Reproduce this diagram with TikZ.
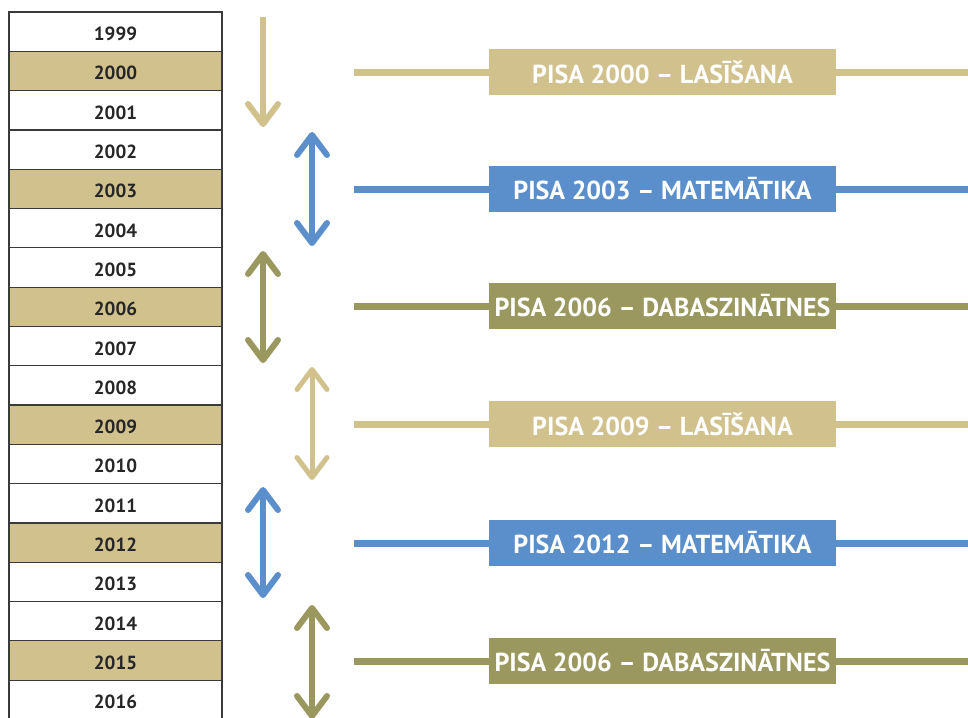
\documentclass[tikz,border=0pt]{standalone}
\usepackage{fontspec}
\setmainfont{PT Sans}
\newfontfamily\pisafont{PT Sans}
\usetikzlibrary{arrows.meta}
\definecolor{pisatan}{HTML}{D1C18D}
\definecolor{pisablue}{HTML}{5B8FCB}
\definecolor{pisaolive}{HTML}{9A985F}
\definecolor{gridgray}{HTML}{3A3A3A}
\begin{document}
\begin{tikzpicture}[
		x=1pt,
		y=-1pt,
		font=\bfseries
	]
	\tikzset{
		yearnode/.style = {rectangle, draw=gridgray, line width=1.2pt, fill=white, minimum width=213pt, minimum height=39.3pt, inner sep=0pt, text=black!85, font=\fontsize{19}{19}\selectfont\bfseries, text height=18pt, text depth=0pt},
		yearpisa/.style = {yearnode, fill=pisatan},
		pisanode/.style = {rectangle, minimum width=347pt, minimum height=46pt, inner sep=0pt, text=white, font=\pisafont\fontsize{26}{26}\selectfont\bfseries},
		pisaline/.style = {line width=7pt},
		barb/.tip = {Straight Barb[length=20pt, width=30pt, line cap=round, line join=round]},
		arrowd/.style = {line width=6pt, -barb},
		arrowb/.style = {line width=6pt, barb-barb},
	}
	\useasboundingbox (0,0) rectangle (968,717);
	%
	\node[yearnode] at (115.5,31.65) (y1999) {1999};
	\node[yearpisa] at (115.5,70.95) (y2000) {2000};
	\node[yearnode] at (115.5,110.25) (y2001) {2001};
	\node[yearnode] at (115.5,149.55) (y2002) {2002};
	\node[yearpisa] at (115.5,188.85) (y2003) {2003};
	\node[yearnode] at (115.5,228.15) (y2004) {2004};
	\node[yearnode] at (115.5,267.45) (y2005) {2005};
	\node[yearpisa] at (115.5,306.75) (y2006) {2006};
	\node[yearnode] at (115.5,346.05) (y2007) {2007};
	\node[yearnode] at (115.5,385.35) (y2008) {2008};
	\node[yearpisa] at (115.5,424.65) (y2009) {2009};
	\node[yearnode] at (115.5,463.95) (y2010) {2010};
	\node[yearnode] at (115.5,503.25) (y2011) {2011};
	\node[yearpisa] at (115.5,542.55) (y2012) {2012};
	\node[yearnode] at (115.5,581.85) (y2013) {2013};
	\node[yearnode] at (115.5,621.15) (y2014) {2014};
	\node[yearpisa] at (115.5,660.45) (y2015) {2015};
	\node[yearnode] at (115.5,699.75) (y2016) {2016};
	%
	\node[pisanode, fill=pisatan] at (662.5,72) (p2000) {PISA 2000 – LASĪŠANA};
	\node[pisanode, fill=pisablue] at (662.5,189) (p2003) {PISA 2003 – MATEMĀTIKA};
	\node[pisanode, fill=pisaolive] at (662.5,306) (p2006) {PISA 2006 – DABASZINĀTNES};
	\node[pisanode, fill=pisatan] at (662.5,424) (p2009) {PISA 2009 – LASĪŠANA};
	\node[pisanode, fill=pisablue] at (662.5,543) (p2012) {PISA 2012 – MATEMĀTIKA};
	\node[pisanode, fill=pisaolive] at (662.5,661) (p2015) {PISA 2006 – DABASZINĀTNES};
	%
	\coordinate (l2000) at (354,72);    \coordinate (r2000) at (968,72);
	\coordinate (l2003) at (354,189);   \coordinate (r2003) at (968,189);
	\coordinate (l2006) at (354,306);   \coordinate (r2006) at (968,306);
	\coordinate (l2009) at (354,424);   \coordinate (r2009) at (968,424);
	\coordinate (l2012) at (354,543);   \coordinate (r2012) at (968,543);
	\coordinate (l2015) at (354,661);   \coordinate (r2015) at (968,661);
	\draw[pisaline, pisatan] (l2000) -- (p2000.west) (p2000.east) -- (r2000);
	\draw[pisaline, pisablue] (l2003) -- (p2003.west) (p2003.east) -- (r2003);
	\draw[pisaline, pisaolive] (l2006) -- (p2006.west) (p2006.east) -- (r2006);
	\draw[pisaline, pisatan] (l2009) -- (p2009.west) (p2009.east) -- (r2009);
	\draw[pisaline, pisablue] (l2012) -- (p2012.west) (p2012.east) -- (r2012);
	\draw[pisaline, pisaolive] (l2015) -- (p2015.west) (p2015.east) -- (r2015);
	%
	\coordinate (a1top) at (263,17);    \coordinate (a1bot) at (263,127);
	\coordinate (a2top) at (312,132);   \coordinate (a2bot) at (312,246);
	\coordinate (a3top) at (263,251);   \coordinate (a3bot) at (263,363);
	\coordinate (a4top) at (312,367);   \coordinate (a4bot) at (312,480);
	\coordinate (a5top) at (263,487);   \coordinate (a5bot) at (263,598);
	\coordinate (a6top) at (312,605);   \coordinate (a6bot) at (312,719);
	\draw[arrowd, pisatan] (a1top) -- (a1bot);
	\draw[arrowb, pisablue] (a2top) -- (a2bot);
	\draw[arrowb, pisaolive] (a3top) -- (a3bot);
	\draw[arrowb, pisatan, line width=5pt] (a4top) -- (a4bot);
	\draw[arrowb, pisablue] (a5top) -- (a5bot);
	\draw[arrowb, pisaolive] (a6top) -- (a6bot);
\end{tikzpicture}
\end{document}
